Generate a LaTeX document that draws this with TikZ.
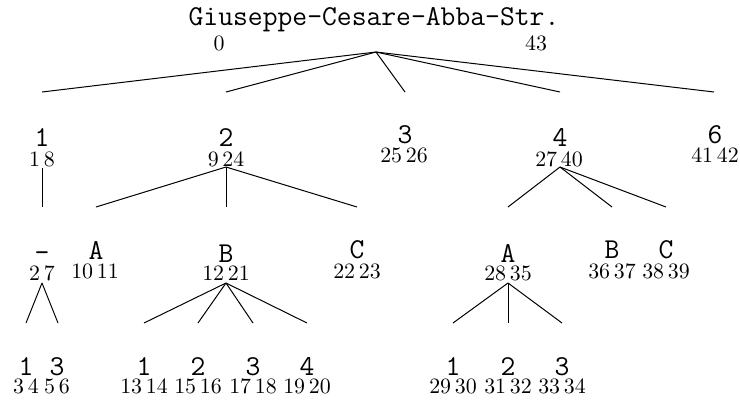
\documentclass[tikz,border=0pt]{standalone}
\tikzset{
  lab/.style={font=\ttfamily\Large, inner sep=0pt, anchor=base},
  num/.style={font=\fontsize{10.95}{13}\selectfont, inner sep=0pt, anchor=base},
  branch/.style={line width=0.5pt}
}
\begin{document}
\begin{tikzpicture}[x=0.5pt,y=-0.5pt]
\useasboundingbox (0,0) rectangle (740,403);
% root
\node[lab] (r) at (374,25) {Giuseppe-Cesare-Abba-Str.};
\node[num] (r0) at (219,50) {0};
\node[num] (r43) at (536,50) {43};
\coordinate (rb) at (376,52);
% level 1
\node[lab] (n1) at (42,146) {1};   \node[num] (n1n) at (42,166) {1\,8};
\node[lab] (n2) at (226,146) {2};  \node[num] (n2n) at (226,166) {9\,24};
\node[lab] (n3) at (405,143) {3};  \node[num] (n3n) at (404,162.5) {25\,26};
\node[lab] (n4) at (560,146) {4};  \node[num] (n4n) at (559,166) {27\,40};
\node[lab] (n6) at (715,143) {6};  \node[num] (n6n) at (715,162.5) {41\,42};
\coordinate (n1t) at (42,92);  \coordinate (n1b) at (42,168);
\coordinate (n2t) at (226,92); \coordinate (n2b) at (226,167);
\coordinate (n3t) at (405,92);
\coordinate (n4t) at (560,92); \coordinate (n4b) at (560,167);
\coordinate (n6t) at (714,92);
% level 2
\node[lab] (n11) at (42,261) {-};  \node[num] (n11n) at (42,280) {2\,7};
\node[lab] (n21) at (96,259) {A};  \node[num] (n21n) at (95,278) {10\,11};
\node[lab] (n22) at (226,262) {B}; \node[num] (n22n) at (226,280) {12\,21};
\node[lab] (n23) at (357,258) {C}; \node[num] (n23n) at (357,278) {22\,23};
\node[lab] (n41) at (508,262) {A}; \node[num] (n41n) at (508,280) {28\,35};
\node[lab] (n42) at (612,258) {B}; \node[num] (n42n) at (612,278) {36\,37};
\node[lab] (n43) at (666,258) {C}; \node[num] (n43n) at (666,278) {38\,39};
\coordinate (n11t) at (42,207);  \coordinate (n11b) at (42,283);
\coordinate (n21t) at (96,207);
\coordinate (n22t) at (226,207); \coordinate (n22b) at (226,283);
\coordinate (n23t) at (357,207);
\coordinate (n41t) at (508,207); \coordinate (n41b) at (508,283);
\coordinate (n42t) at (612,207);
\coordinate (n43t) at (666,207);
% level 3
\node[lab] (n111) at (26,375) {1};  \node[num] (n111n) at (26,393.5) {3\,4};
\node[lab] (n112) at (57,375) {3};  \node[num] (n112n) at (57,393.5) {5\,6};
\node[lab] (n221) at (144,375) {1}; \node[num] (n221n) at (144,393.5) {13\,14};
\node[lab] (n222) at (198,375) {2}; \node[num] (n222n) at (198,393.5) {15\,16};
\node[lab] (n223) at (253,375) {3}; \node[num] (n223n) at (253,393.5) {17\,18};
\node[lab] (n224) at (307,375) {4}; \node[num] (n224n) at (307,393.5) {19\,20};
\node[lab] (n411) at (453,375) {1}; \node[num] (n411n) at (453,393.5) {29\,30};
\node[lab] (n412) at (508,375) {2}; \node[num] (n412n) at (508,393.5) {31\,32};
\node[lab] (n413) at (562,375) {3}; \node[num] (n413n) at (562,393.5) {33\,34};
\coordinate (n111t) at (26,323); \coordinate (n112t) at (58,323);
\coordinate (n221t) at (144,323); \coordinate (n222t) at (198,323);
\coordinate (n223t) at (253,323); \coordinate (n224t) at (307,323);
\coordinate (n411t) at (453,323); \coordinate (n412t) at (508,323);
\coordinate (n413t) at (562,323);
% branches
\draw[branch] (rb) -- (n1t);
\draw[branch] (rb) -- (n2t);
\draw[branch] (rb) -- (n3t);
\draw[branch] (rb) -- (n4t);
\draw[branch] (rb) -- (n6t);
\draw[branch] (n1b) -- (n11t);
\draw[branch] (n2b) -- (n21t);
\draw[branch] (n2b) -- (n22t);
\draw[branch] (n2b) -- (n23t);
\draw[branch] (n4b) -- (n41t);
\draw[branch] (n4b) -- (n42t);
\draw[branch] (n4b) -- (n43t);
\draw[branch] (n11b) -- (n111t);
\draw[branch] (n11b) -- (n112t);
\draw[branch] (n22b) -- (n221t);
\draw[branch] (n22b) -- (n222t);
\draw[branch] (n22b) -- (n223t);
\draw[branch] (n22b) -- (n224t);
\draw[branch] (n41b) -- (n411t);
\draw[branch] (n41b) -- (n412t);
\draw[branch] (n41b) -- (n413t);
\end{tikzpicture}
\end{document}
